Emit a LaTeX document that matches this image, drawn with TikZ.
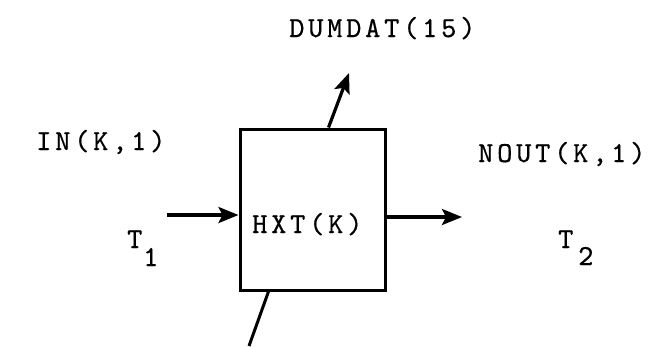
\documentclass[tikz,border=0pt]{standalone}
\usepackage{fontspec}
\usetikzlibrary{arrows.meta}
\newfontfamily\tw[LetterSpace=13,FakeBold=0.6]{lmmono10-regular.otf}
\begin{document}
\begin{tikzpicture}[x=1pt,y=-1pt,
  lbl/.style={inner sep=0pt,anchor=base west,font=\tw\fontsize{29}{30}\selectfont},
  boxst/.style={draw,line width=3pt,minimum width=145pt,minimum height=161pt,inner sep=0pt},
  flow/.style={line width=3.2pt,-{Stealth[length=20pt,width=16pt,inset=4pt]}},
  plain/.style={line width=3pt}]
\useasboundingbox (0,0) rectangle (653,346);
\node[boxst] (box) at (312.5,209.5) {};
\node[lbl] (hxt) at (252,233) {HXT(K)};
\node[lbl] (dum) at (289,37) {DUMDAT(15)};
\node[lbl] (in) at (36,150) {IN(K,1)};
\node[lbl] (nout) at (478,162) {NOUT(K,1)};
\node[lbl] (t1) at (127,248) {T};
\node[lbl] (s1) at (143,266) {1};
\node[lbl] (t2) at (558,248) {T};
\node[lbl] (s2) at (578,265) {2};
\coordinate (inS) at (167,215);
\coordinate (outE) at (462,217);
\coordinate (upE) at (349,73);
\coordinate (upS) at ([xshift=90pt]box.north west);
\coordinate (dnS) at ([xshift=30pt]box.south west);
\coordinate (dnE) at (249,346);
\draw[flow] (inS) -- (inS -| box.west);
\draw[flow] (box.east |- outE) -- (outE);
\draw[flow] (upS) -- (upE);
\draw[plain] (dnS) -- (dnE);
\end{tikzpicture}
\end{document}
